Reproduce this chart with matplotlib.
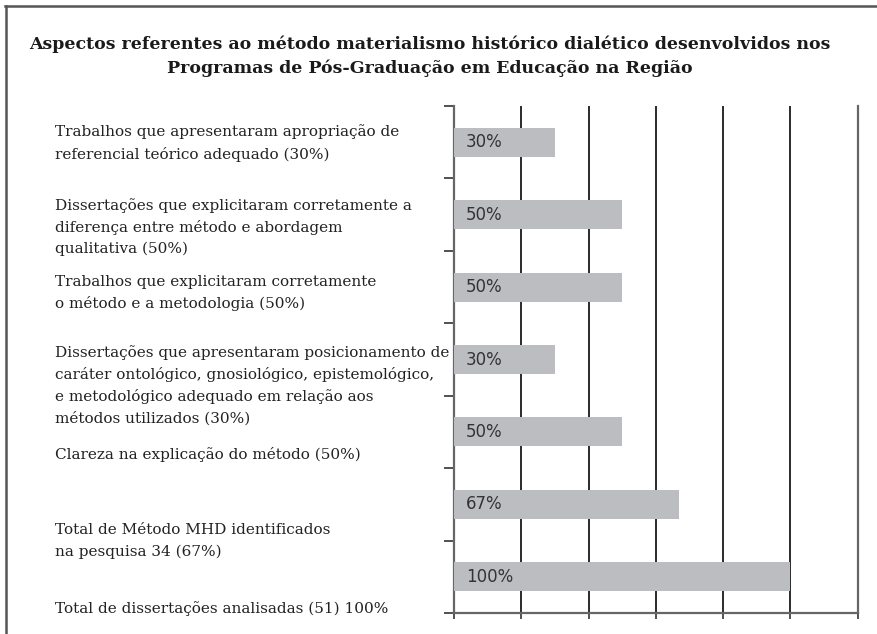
import numpy as np
import matplotlib
matplotlib.use("Agg")
import matplotlib.pyplot as plt
from matplotlib.lines import Line2D

# ---------- data ----------
TITLE = ("Aspectos referentes ao método materialismo histórico dialético desenvolvidos nos\n"
         "Programas de Pós-Graduação em Educação na Região")

categories = [
    "Trabalhos que apresentaram apropriação de\nreferencial teórico adequado (30%)",
    "Dissertações que explicitaram corretamente a\ndiferença entre método e abordagem\nqualitativa (50%)",
    "Trabalhos que explicitaram corretamente\no método e a metodologia (50%)",
    "Dissertações que apresentaram posicionamento de\ncaráter ontológico, gnosiológico, epistemológico,\n"
    "e metodológico adequado em relação aos\nmétodos utilizados (30%)",
    "Clareza na explicação do método (50%)",
    "Total de Método MHD identificados\nna pesquisa 34 (67%)",
    "Total de dissertações analisadas (51) 100%",
]
values = [30, 50, 50, 30, 50, 67, 100]
bar_labels = ["30%", "50%", "50%", "30%", "50%", "67%", "100%"]
xticks = [0, 20, 40, 60, 80, 100, 120]

# label centres (pixels from top) - labels sit a bit lower than their bars
label_py = [143, 227, 293, 385, 455, 541, 609]

W, H = 877, 634
fig = plt.figure(figsize=(W / 100, H / 100), dpi=100)

# ---------- frame (only top and left visible) ----------
fig.add_artist(Line2D([5 / W, 1], [1 - 6 / H, 1 - 6 / H], transform=fig.transFigure,
                      color="#555555", lw=1.8))
fig.add_artist(Line2D([6 / W, 6 / W], [0, 1 - 6 / H], transform=fig.transFigure,
                      color="#555555", lw=1.8))

fig.text(430 / W, 1 - 56.5 / H, TITLE, ha="center", va="center",
         family="DejaVu Serif", weight="bold", fontsize=12.5, color="#1a1a1a",
         linespacing=1.5)

# ---------- axes ----------
ax = fig.add_axes([454 / W, 21 / H, 403.5 / W, 507 / H])
y = np.arange(len(values))
ax.barh(y, values, height=0.4, color="#bcbdc0", zorder=3)
ax.set_xlim(0, 120)
ax.set_ylim(len(values) - 0.5, -0.5)

ax.set_xticks(xticks)
ax.set_xticklabels([])
ax.set_yticks(np.arange(len(values) + 1) - 0.5)
ax.set_yticklabels([])
ax.tick_params(axis="x", direction="out", length=4, width=1.2, color="#333333")
ax.tick_params(axis="y", direction="out", length=7, width=1.2, color="#333333")
ax.grid(axis="x", color="#1a1a1a", lw=1.3, zorder=1)

ax.spines["top"].set_visible(False)
for s in ["left", "bottom", "right"]:
    ax.spines[s].set_color("#666666")
    ax.spines[s].set_linewidth(1.6)

for yi, lab in zip(y, bar_labels):
    ax.text(3.6, yi, lab, va="center", ha="left", fontsize=12,
            family="DejaVu Sans", color="#333333", zorder=4)

for cat, py in zip(categories, label_py):
    fig.text(55 / W, 1 - py / H, cat, ha="left", va="center",
             family="DejaVu Serif", fontsize=11, color="#222222",
             linespacing=1.6)

fig.savefig("out.png", dpi=100)
